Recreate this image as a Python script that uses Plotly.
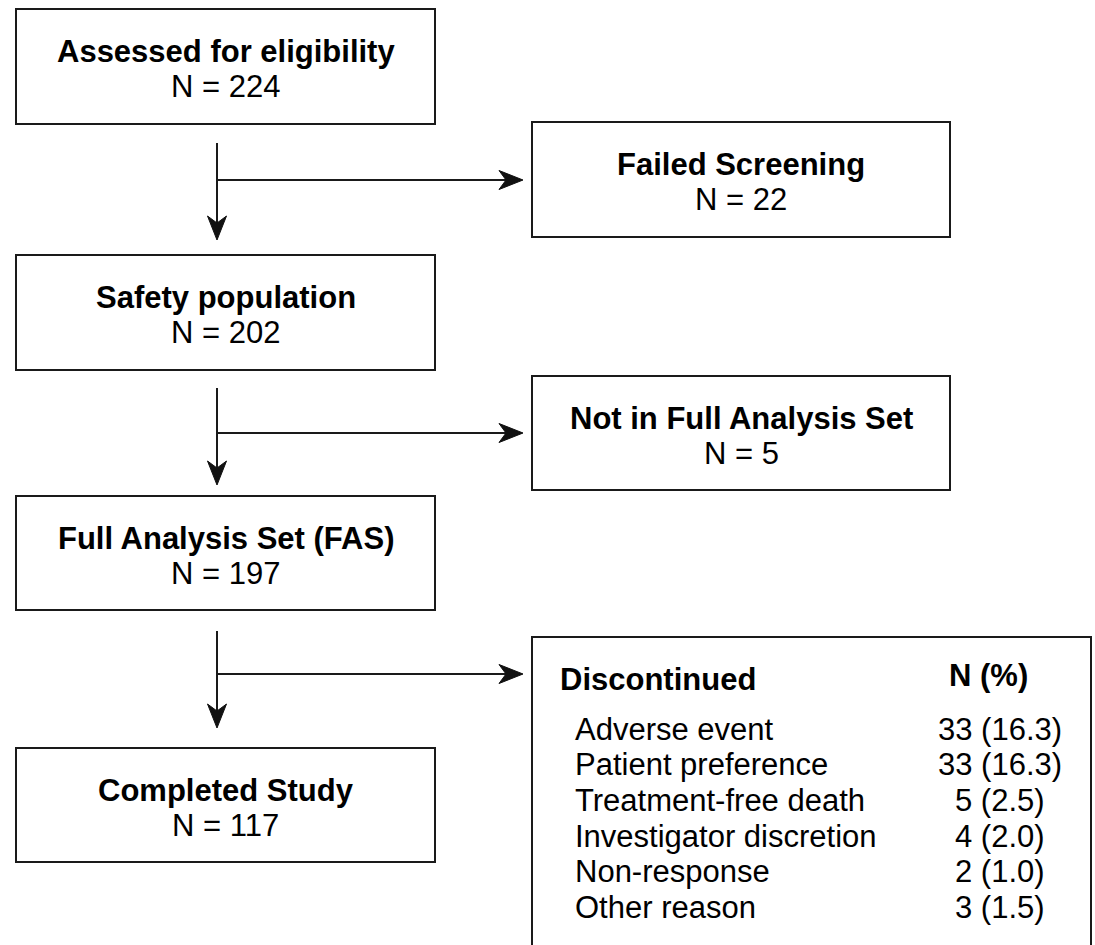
import plotly.graph_objects as go

# ---- data ----
box_titles = ["Assessed for eligibility", "Failed Screening", "Safety population",
              "Not in Full Analysis Set", "Full Analysis Set (FAS)", "Completed Study"]
box_counts = [224, 22, 202, 5, 197, 117]
disc_header = "Discontinued"
disc_col_header = "N (%)"
disc_reasons = ["Adverse event", "Patient preference", "Treatment-free death",
                "Investigator discretion", "Non-response", "Other reason"]
disc_n = [33, 33, 5, 4, 2, 3]
disc_pct = [16.3, 16.3, 2.5, 2.0, 1.0, 1.5]

# ---- layout geometry (pixels) ----
W, H = 1095, 945
LINE = dict(color="#1a1a1a", width=2)
FONT = "Liberation Sans, Arial, Helvetica, sans-serif"
TITLE_SIZE = 31
TEXT_SIZE = 31

# box rectangles: x0, x1, y0, y1
box_rects = [(16, 435, 9, 124), (532, 950, 122, 237), (16, 435, 255, 370),
             (532, 950, 376, 490), (16, 435, 496, 610), (16, 435, 748, 862)]
disc_rect = (532, 1091, 637, 960)

# connectors: vertical x, y start, y tip, horizontal y, x tip
connectors = [(217, 143, 240, 180, 523), (217, 388, 485, 433, 523), (217, 631, 728, 674, 523)]

fig = go.Figure()
shapes = []
annotations = []

def ann(x, y, text, size, bold=False, xanchor="center"):
    annotations.append(dict(x=x, y=y, xref="x", yref="y", text=f"<b>{text}</b>" if bold else text,
                            showarrow=False, xanchor=xanchor, yanchor="middle",
                            font=dict(family=FONT, size=size, color="black")))

for (x0, x1, y0, y1), t, n in zip(box_rects, box_titles, box_counts):
    shapes.append(dict(type="rect", x0=x0, x1=x1, y0=y0, y1=y1, xref="x", yref="y",
                       line=LINE, fillcolor="white"))
    cx, cy = (x0 + x1) / 2, (y0 + y1) / 2
    ann(cx, cy - 15, t, TITLE_SIZE, bold=True)
    ann(cx, cy + 20, f"N = {n}", TEXT_SIZE)

def arrowhead(tx, ty, direction):
    L, Wd, notch = 24, 9.5, 17
    if direction == "down":
        p = f"M {tx},{ty} L {tx-Wd},{ty-L} L {tx},{ty-notch} L {tx+Wd},{ty-L} Z"
    else:
        p = f"M {tx},{ty} L {tx-L},{ty-Wd} L {tx-notch},{ty} L {tx-L},{ty+Wd} Z"
    shapes.append(dict(type="path", path=p, xref="x", yref="y", fillcolor="#111111",
                       line=dict(color="#111111", width=1)))

for vx, vy0, vy1, hy, hx1 in connectors:
    shapes.append(dict(type="line", x0=vx, x1=vx, y0=vy0, y1=vy1 - 10, xref="x", yref="y", line=LINE))
    shapes.append(dict(type="line", x0=vx, x1=hx1 - 10, y0=hy, y1=hy, xref="x", yref="y", line=LINE))
    arrowhead(vx, vy1, "down")
    arrowhead(hx1, hy, "right")

# discontinued box
x0, x1, y0, y1 = disc_rect
shapes.append(dict(type="rect", x0=x0, x1=x1, y0=y0, y1=y1, xref="x", yref="y",
                   line=LINE, fillcolor="white"))
ann(558, 679, disc_header, TITLE_SIZE, bold=True, xanchor="left")
ann(988, 675, disc_col_header, TITLE_SIZE, bold=True)
row_y0, row_dy = 729, 35.7
for i, (r, n, p) in enumerate(zip(disc_reasons, disc_n, disc_pct)):
    y = row_y0 + i * row_dy
    ann(573, y, r, TEXT_SIZE, xanchor="left")
    ann(1000, y, f"{n} ({p:.1f})", TEXT_SIZE)

fig.update_layout(
    width=W, height=H, margin=dict(l=0, r=0, t=0, b=0),
    paper_bgcolor="white", plot_bgcolor="white",
    xaxis=dict(range=[0, W], visible=False, fixedrange=True),
    yaxis=dict(range=[H, 0], visible=False, fixedrange=True),
    shapes=shapes, annotations=annotations, showlegend=False,
)
fig.write_html("out.html", config={"displayModeBar": False},
               post_script="document.body.style.margin='0px';document.body.style.overflow='hidden';")
